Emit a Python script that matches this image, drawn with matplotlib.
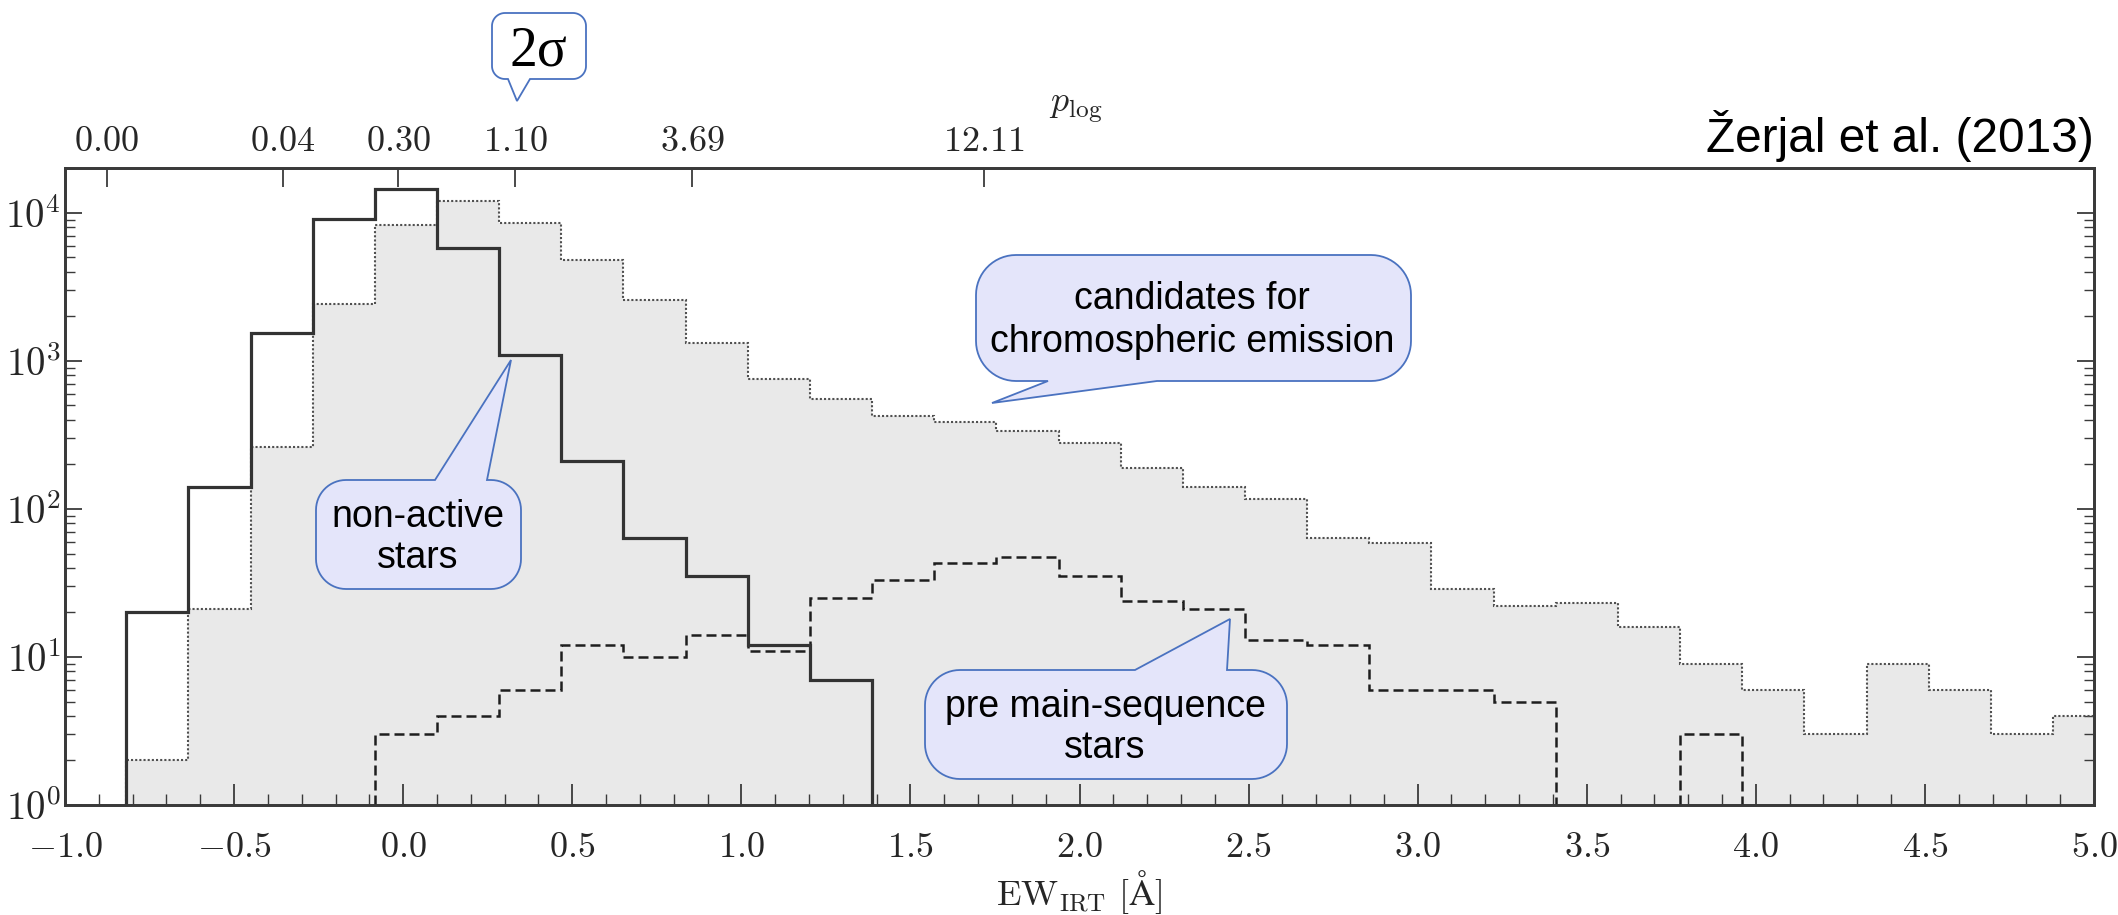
import numpy as np
import matplotlib
matplotlib.use('Agg')
import matplotlib.pyplot as plt
from matplotlib.patches import Polygon
from matplotlib.ticker import (MultipleLocator, LogLocator, FuncFormatter,
                               NullFormatter, NullLocator)

plt.rcParams['mathtext.fontset'] = 'cm'

W, H = 2118, 915

# ---- histogram binning in EW_IRT [A] ----
bin_start, bin_width, n_bins = -0.819, 0.1838, 32
edges = bin_start + bin_width * np.arange(n_bins + 1)

# counts per bin
candidates = [2, 21, 264, 2430, 8300, 12000, 8600, 4800, 2570, 1320, 752, 555,
              425, 389, 337, 278, 188, 140, 116, 64, 59, 29, 22, 23,
              16, 9, 6, 3, 9, 6, 3, 4]
non_active = [20, 140, 1540, 9100, 14500, 5800, 1100, 212, 64, 35, 12, 7,
              0, 0, 0, 0, 0, 0, 0, 0, 0, 0, 0, 0,
              0, 0, 0, 0, 0, 0, 0, 0]
pre_ms = [0, 0, 0, 0, 3, 4, 6, 12, 10, 14, 11, 25,
          33, 43, 47, 35, 24, 21, 13, 12, 6, 6, 5, 0,
          0, 3, 0, 0, 0, 0, 0, 0]

# top axis: p_log values at the corresponding EW
plog_pos = [-0.877, -0.356, -0.014, 0.332, 0.855, 1.718]
plog_labels = ['0.00', '0.04', '0.30', '1.10', '3.69', '12.11']

line_col = '#3a3a3a'
fill_col = '#e9e9e9'
text_col = '#262626'


def nonzero_runs(vals):
    """(start, stop) index pairs of consecutive non-empty bins"""
    out, i = [], 0
    while i < len(vals):
        if vals[i] > 0:
            j = i
            while j < len(vals) and vals[j] > 0:
                j += 1
            out.append((i, j))
            i = j
        else:
            i += 1
    return out


fig = plt.figure(figsize=(W / 100, H / 100), dpi=100)
ax = fig.add_axes([65 / W, 1 - 805 / H, (2094 - 65) / W, (805 - 168) / H])
ax.set_yscale('log')
ax.set_xlim(-1.0, 5.0)
ax.set_ylim(1, 2.01e4)

# candidates: grey filled histogram with dotted outline
ax.stairs(candidates, edges, baseline=1, fill=True, color=fill_col, lw=0, zorder=1)
ax.stairs(candidates, edges, baseline=1, color='#505050', ls=(0, (1, 1)), lw=1.5,
          zorder=2)

for i, j in nonzero_runs(pre_ms):
    ax.stairs(pre_ms[i:j], edges[i:j + 1], baseline=1, color='#1e1e1e',
              ls=(0, (4, 2)), lw=1.8, zorder=3)

for i, j in nonzero_runs(non_active):
    ax.stairs(non_active[i:j], edges[i:j + 1], baseline=1, color='#333333',
              lw=2.3, zorder=4)

# ---- axes cosmetics ----
ax.xaxis.set_major_locator(MultipleLocator(0.5))
ax.xaxis.set_minor_locator(MultipleLocator(0.1))
ax.xaxis.set_major_formatter(FuncFormatter(lambda v, p: f'${v:.1f}$'))
ax.yaxis.set_major_locator(LogLocator(10, numticks=10))
ax.yaxis.set_minor_locator(LogLocator(10, subs=np.arange(2, 10), numticks=10))
ax.yaxis.set_major_formatter(
    FuncFormatter(lambda v, p: f'$10^{{{int(round(np.log10(v)))}}}$'))
ax.yaxis.set_minor_formatter(NullFormatter())

ax.tick_params(which='both', direction='in', top=False, right=True,
               color=line_col, labelcolor=text_col)
ax.tick_params(axis='x', which='major', length=15, width=1.3, pad=18, labelsize=26)
ax.tick_params(axis='x', which='minor', length=8, width=1.0)
ax.tick_params(axis='y', which='major', length=12, width=1.3, pad=3, labelsize=28)
ax.tick_params(axis='y', which='minor', length=7, width=1.0)

top = ax.twiny()
top.set_xlim(ax.get_xlim())
top.set_xticks(plog_pos)
top.set_xticklabels([f'${s}$' for s in plog_labels])
top.xaxis.set_minor_locator(NullLocator())
top.tick_params(direction='in', length=14, width=1.3, pad=7, labelsize=26,
                color=line_col, labelcolor=text_col)

for a in (ax, top):
    for sp in a.spines.values():
        sp.set_color(line_col)
        sp.set_linewidth(2.0)

fig.text(1079 / W, 1 - 905 / H, r'$\mathrm{EW}_{\mathrm{IRT}}\ [\mathrm{\AA}]$',
         fontsize=26, color=text_col, ha='center', va='baseline')
fig.text(1076 / W, 1 - 108 / H, r'$p_{\rm log}$', fontsize=26, color=text_col,
         ha='center', va='center')

fig.text(2094 / W, 1 - 152 / H, 'Žerjal et al. (2013)', family='Liberation Sans',
         fontsize=34.4, ha='right', va='baseline', color='black')


# ---- speech-bubble callouts (figure pixel coordinates, y downwards) ----
def to_fig(x, y):
    return x / W, 1 - y / H


def bubble(x0, y0, x1, y1, r, side, bx0, bx1, tip, fc='#e4e5fa'):
    pts = []

    def arc(cx, cy, a0, a1):
        t = np.radians(np.linspace(a0, a1, 16))
        pts.extend(zip(cx + r * np.cos(t), cy + r * np.sin(t)))

    pts.append((x0 + r, y0))
    if side == 'top':
        pts.extend([(bx0, y0), tip, (bx1, y0)])
    arc(x1 - r, y0 + r, -90, 0)
    arc(x1 - r, y1 - r, 0, 90)
    if side == 'bottom':
        pts.extend([(bx1, y1), tip, (bx0, y1)])
    arc(x0 + r, y1 - r, 90, 180)
    arc(x0 + r, y0 + r, 180, 270)
    poly = Polygon([to_fig(*p) for p in pts], closed=True,
                   transform=fig.transFigure, facecolor=fc,
                   edgecolor='#4a72c0', lw=1.3, zorder=5)
    fig.add_artist(poly)


def bubble_text(cx, lines, **kw):
    for s, yb in lines:
        fig.text(*to_fig(cx, yb), s, ha='center', va='baseline', zorder=6, **kw)


sans = dict(family='Liberation Sans', fontsize=27, color='black')

bubble(492, 13, 586, 79, 13, 'bottom', 508, 530, (517, 101), fc='white')
bubble_text(538, [('2σ', 65)], family='Liberation Serif', fontsize=40, color='black')

bubble(316, 480, 521, 589, 30, 'top', 435, 487, (511, 360))
bubble_text(418, [('non-active', 527), ('stars', 568)], **sans)

bubble(976, 255, 1411, 381, 40, 'bottom', 1048, 1157, (992, 403))
bubble_text(1192, [('candidates for', 309), ('chromospheric emission', 352)], **sans)

bubble(925, 670, 1287, 779, 35, 'top', 1135, 1227, (1230, 619))
bubble_text(1105, [('pre main-sequence', 717), ('stars', 758)], **sans)

fig.savefig('out.png', dpi=100)
